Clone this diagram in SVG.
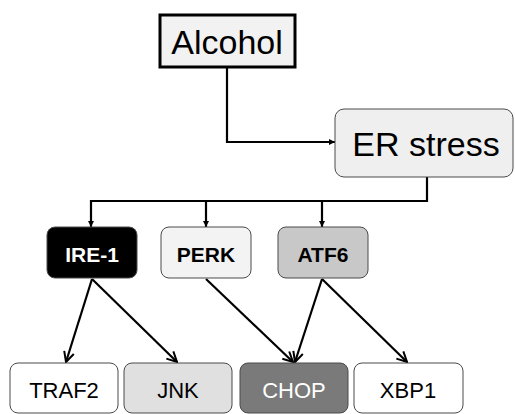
<svg xmlns="http://www.w3.org/2000/svg" width="515" height="414" viewBox="0 0 515 414">
<defs>
<marker id="tri" viewBox="0 0 10 10" refX="10" refY="5" markerWidth="6" markerHeight="6" orient="auto" markerUnits="userSpaceOnUse">
<path d="M0,0 L10,5 L0,10 z" fill="#000"/>
</marker>
<marker id="vee" viewBox="0 0 12 12" refX="11" refY="6" markerWidth="12" markerHeight="12" orient="auto" markerUnits="userSpaceOnUse">
<path d="M1,1 L11,6 L1,11" fill="none" stroke="#000" stroke-width="2"/>
</marker>
</defs>
<style>
text{font-family:"Liberation Sans",Arial,sans-serif;text-anchor:middle}
.box{stroke:#4a4a4a;stroke-width:1}
.mid{font-size:21px;font-weight:bold}
.bot{font-size:22px}
.conn{fill:none;stroke:#000;stroke-width:2.2}
</style>
<rect width="515" height="414" fill="#fff"/>
<g id="connectors">
<path class="conn" d="M227,67 V142 H335" marker-end="url(#tri)"/>
<path class="conn" d="M427,177 V201 H91 V227" marker-end="url(#tri)"/>
<path class="conn" d="M206,201 V227" marker-end="url(#tri)"/>
<path class="conn" d="M322,201 V227" marker-end="url(#tri)"/>
<path class="conn" d="M92,279 L66,362" marker-end="url(#vee)"/>
<path class="conn" d="M92,279 L177,362" marker-end="url(#vee)"/>
<path class="conn" d="M206,279 L293,362" marker-end="url(#vee)"/>
<path class="conn" d="M322,279 L295,362" marker-end="url(#vee)"/>
<path class="conn" d="M322,279 L407,362" marker-end="url(#vee)"/>
</g>
<g id="alcohol">
<rect x="160" y="15" width="135" height="52" fill="#f2f2f2" stroke="#000" stroke-width="3"/>
<text x="227" y="54" font-size="34">Alcohol</text>
</g>
<g id="er-stress">
<rect class="box" x="335" y="109" width="178" height="68" rx="9" fill="#efefef"/>
<text x="426" y="156" font-size="34">ER stress</text>
</g>
<g id="ire1">
<rect class="box" x="47" y="227" width="90" height="51" rx="8" fill="#000"/>
<text class="mid" x="92" y="262" fill="#fff">IRE-1</text>
</g>
<g id="perk">
<rect class="box" x="161" y="227" width="90" height="51" rx="8" fill="#f3f3f3"/>
<text class="mid" x="206" y="262" fill="#000">PERK</text>
</g>
<g id="atf6">
<rect class="box" x="278" y="227" width="90" height="51" rx="8" fill="#c8c8c8"/>
<text class="mid" x="323" y="262" fill="#000">ATF6</text>
</g>
<g id="traf2">
<rect class="box" x="10" y="363" width="108" height="50" rx="8" fill="#fff"/>
<text class="bot" x="64" y="398" fill="#000">TRAF2</text>
</g>
<g id="jnk">
<rect class="box" x="124" y="363" width="108" height="50" rx="8" fill="#e0e0e0"/>
<text class="bot" x="178" y="398" fill="#000">JNK</text>
</g>
<g id="chop">
<rect class="box" x="240" y="363" width="108" height="50" rx="8" fill="#7a7a7a"/>
<text class="bot" x="294" y="398" fill="#fff">CHOP</text>
</g>
<g id="xbp1">
<rect class="box" x="354" y="363" width="109" height="50" rx="8" fill="#fff"/>
<text class="bot" x="408" y="398" fill="#000">XBP1</text>
</g>
</svg>
